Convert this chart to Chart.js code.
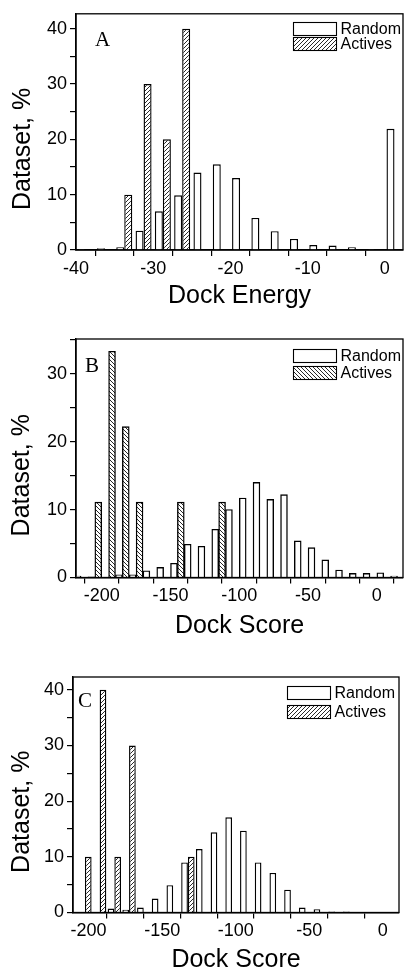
<!DOCTYPE html>
<html>
<head>
<meta charset="utf-8">
<script src="https://cdn.jsdelivr.net/npm/chart.js@4.4.1/dist/chart.umd.min.js"></script>
<style>
  html, body { margin: 0; padding: 0; background: #fff; }
  .panel { position: absolute; left: 0; width: 404px; }
  canvas { display: block; }
</style>
</head>
<body>
<div class="panel" style="top:0;height:318px"><canvas id="chartA" width="404" height="318"></canvas></div>
<div class="panel" style="top:318px;height:322px"><canvas id="chartB" width="404" height="322"></canvas></div>
<div class="panel" style="top:640px;height:333px"><canvas id="chartC" width="404" height="333"></canvas></div>
<script>
// Panel A - Dock Energy (bins of 2.5)
const binsA = [-38.75, -36.25, -33.75, -31.25, -28.75, -26.25, -23.75, -21.25, -18.75, -16.25, -13.75, -11.25, -8.75, -6.25, -3.75, -1.25, 1.25];
const randomA = [0.2, 0.3, 0.5, 3.5, 7.0, 9.9, 14.0, 15.5, 13.0, 5.8, 3.4, 2.0, 0.9, 0.8, 0.5, 0.2, 21.9];
const activesA = [null, null, 10, 30, 20, 40, null, null, null, null, null, null, null, null, null, null, null];
const xTicksA = [-40, -30, -20, -10, 0];
const yTicksA = [0, 10, 20, 30, 40];

// Panel B - Dock Score (bins of 10)
const binsB = [-220, -210, -200, -190, -180, -170, -160, -150, -140, -130, -120, -110, -100, -90, -80, -70, -60, -50, -40, -30, -20, -10, 0, 10];
const randomB = [0.2, 0.1, 0, 0.4, 0.4, 1.0, 1.5, 2.1, 4.9, 4.6, 7.1, 10.0, 11.7, 14.0, 11.5, 12.2, 5.4, 4.4, 2.6, 1.1, 0.6, 0.6, 0.7, 0.2];
const activesB = [null, null, 11.1, 33.3, 22.2, 11.1, null, null, 11.1, null, null, 11.1, null, null, null, null, null, null, null, null, null, null, null, null];
const xTicksB = [-200, -150, -100, -50, 0];
const yTicksB = [0, 10, 20, 30];

// Panel C - Dock Score (bins of 10)
const binsC = [-202.5, -192.5, -182.5, -172.5, -162.5, -152.5, -142.5, -132.5, -122.5, -112.5, -102.5, -92.5, -82.5, -72.5, -62.5, -52.5, -42.5, -32.5, -22.5, -12.5, -2.5, 7.5];
const randomC = [0.1, 0.1, 0.7, 0.5, 0.9, 2.5, 4.9, 9.0, 11.4, 14.4, 17.1, 14.7, 9.0, 7.1, 4.1, 0.9, 0.6, 0.2, 0.2, 0, 0.1, 0.1];
const activesC = [10, 40, 10, 30, null, null, null, 10, null, null, null, null, null, null, null, null, null, null, null, null, null, null];
const xTicksC = [-200, -150, -100, -50, 0];
const yTicksC = [0, 10, 20, 30, 40];

const seriesNames = ['Random', 'Actives'];
const yTitle = 'Dataset, %';

const SANS = '"Liberation Sans", Arial, Helvetica, sans-serif';
const SERIF = '"Liberation Serif", "Times New Roman", serif';

function hatch(dir) {
  const n = 4;
  const c = document.createElement('canvas');
  c.width = n; c.height = n;
  const g = c.getContext('2d');
  g.fillStyle = '#fff';
  g.fillRect(0, 0, n, n);
  g.strokeStyle = '#111';
  g.lineWidth = 0.9;
  g.beginPath();
  if (dir > 0) {
    g.moveTo(-1, n + 1); g.lineTo(n + 1, -1);
  } else {
    g.moveTo(-1, -1); g.lineTo(n + 1, n + 1);
  }
  g.stroke();
  return g.createPattern(c, 'repeat');
}

// frame, y title, panel letter and legend
const panelDecor = {
  id: 'panelDecor',
  afterDraw(chart, args, opts) {
    const { ctx, chartArea: a } = chart;
    ctx.save();
    ctx.strokeStyle = '#000';
    ctx.lineWidth = 1.3;
    ctx.strokeRect(a.left, a.top, a.right - a.left, a.bottom - a.top);

    // y axis title, a little below the middle of the axis as in the figure
    ctx.save();
    ctx.translate(opts.yTitleX, (a.top + a.bottom) / 2 + 17);
    ctx.rotate(-Math.PI / 2);
    ctx.font = '25px ' + SANS;
    ctx.fillStyle = '#000';
    ctx.textAlign = 'center';
    ctx.textBaseline = 'middle';
    ctx.fillText(yTitle, 0, 0);
    ctx.restore();

    ctx.fillStyle = '#000';
    ctx.font = '21px ' + SERIF;
    ctx.textBaseline = 'alphabetic';
    ctx.fillText(opts.letter, a.left + opts.letterX, a.top + opts.letterY);

    ctx.font = '16px ' + SANS;
    ctx.textBaseline = 'middle';
    chart.data.datasets.forEach((ds, i) => {
      const x = Math.round(a.right - opts.legendRight) + 0.5;
      const y = Math.round(a.top + opts.legendTop + i * opts.legendRow) + 0.5;
      ctx.fillStyle = ds.backgroundColor;
      ctx.fillRect(x, y, 43, 13);
      ctx.lineWidth = 1.1;
      ctx.strokeStyle = '#000';
      ctx.strokeRect(x, y, 43, 13);
      ctx.fillStyle = '#000';
      ctx.fillText(ds.label, x + 47, y + 7);
    });
    ctx.restore();
  }
};

function isMajor(list, v) {
  return list.some(m => Math.abs(m - v) < 1e-6);
}

function makePanel(id, p) {
  const canvas = document.getElementById(id);
  const W = canvas.width, H = canvas.height;
  const pts = vals => p.bins.map((b, i) => ({ x: b, y: vals[i] }));
  return new Chart(canvas.getContext('2d'), {
    type: 'bar',
    data: {
      datasets: [{
        label: seriesNames[0],
        data: pts(p.random),
        backgroundColor: '#fff',
        borderColor: '#000',
        borderWidth: 1.4,
        order: p.activesFirst ? 1 : 0
      }, {
        label: seriesNames[1],
        data: pts(p.actives),
        backgroundColor: hatch(p.hatchDir),
        borderColor: '#000',
        borderWidth: 1.4,
        order: p.activesFirst ? 0 : 1
      }]
    },
    options: {
      responsive: false,
      animation: false,
      events: [],
      categoryPercentage: p.catPct,
      barPercentage: 1.0,
      layout: { padding: { left: 0, top: p.area.top, right: W - p.area.right, bottom: 0 } },
      plugins: {
        legend: { display: false },
        tooltip: { enabled: false },
        panelDecor: p.decor
      },
      scales: {
        x: {
          type: 'linear',
          min: p.xMin,
          max: p.xMax,
          offset: false,
          afterFit(s) { s.height = H - p.area.bottom; },
          ticks: {
            stepSize: p.xStep,
            includeBounds: false,
            autoSkip: false,
            maxRotation: 0,
            padding: 2,
            color: '#000',
            font: { size: 18, family: SANS },
            callback: v => isMajor(p.xMajor, v) ? String(v) : ''
          },
          grid: { drawOnChartArea: false, drawTicks: true, tickLength: 6, color: '#000', lineWidth: 1.2 },
          border: { display: true, color: '#000', width: 1.4 },
          title: {
            display: true,
            text: p.xTitle,
            color: '#000',
            font: { size: 25, family: SANS, lineHeight: 1 },
            padding: { top: 0, bottom: p.xTitlePad }
          }
        },
        y: {
          min: 0,
          max: p.yMax,
          afterFit(s) { s.width = p.area.left; },
          ticks: {
            stepSize: 5,
            includeBounds: false,
            autoSkip: false,
            padding: 3,
            color: '#000',
            font: { size: 18, family: SANS },
            callback: v => isMajor(p.yMajor, v) ? String(v) : ''
          },
          grid: { drawOnChartArea: false, drawTicks: true, tickLength: 6, color: '#000', lineWidth: 1.2 },
          border: { display: true, color: '#000', width: 1.4 },
          title: { display: false }
        }
      }
    },
    plugins: [panelDecor]
  });
}

makePanel('chartA', {
  bins: binsA, random: randomA, actives: activesA,
  xMajor: xTicksA, yMajor: yTicksA,
  xMin: -40, xMax: 2.35, xStep: 5, yMax: 42.7,
  area: { left: 76, top: 10, right: 403, bottom: 250 },
  catPct: 0.83, activesFirst: false, hatchDir: 1,
  xTitle: 'Dock Energy', xTitlePad: 9,
  decor: { letter: 'A', letterX: 19, letterY: 32, legendRight: 110, legendTop: 8, legendRow: 15, yTitleX: 23 }
});

makePanel('chartB', {
  bins: binsB, random: randomB, actives: activesB,
  xMajor: xTicksB, yMajor: yTicksB,
  xMin: -218.7, xMax: 19, xStep: 25, yMax: 35.1,
  area: { left: 76, top: 21, right: 403, bottom: 259.5 },
  catPct: 1.0, activesFirst: true, hatchDir: -1,
  xTitle: 'Dock Score', xTitlePad: 1.5,
  decor: { letter: 'B', letterX: 9, letterY: 33, legendRight: 110, legendTop: 10, legendRow: 17, yTitleX: 22.5 }
});

makePanel('chartC', {
  bins: binsC, random: randomC, actives: activesC,
  xMajor: xTicksC, yMajor: yTicksC,
  xMin: -210.6, xMax: 11, xStep: 25, yMax: 42.3,
  area: { left: 73, top: 37, right: 399, bottom: 272.5 },
  catPct: 0.91, activesFirst: false, hatchDir: 1,
  xTitle: 'Dock Score', xTitlePad: 0.5,
  decor: { letter: 'C', letterX: 5, letterY: 30, legendRight: 112, legendTop: 9, legendRow: 19, yTitleX: 22.5 }
});
</script>
</body>
</html>
